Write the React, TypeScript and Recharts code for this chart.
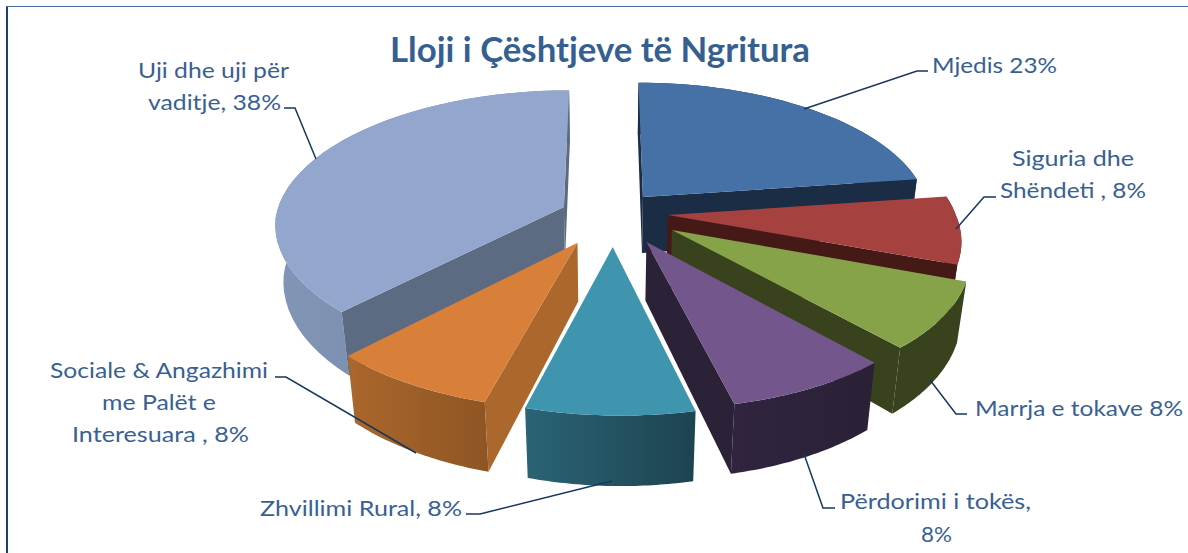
import { Pie, PieChart } from "recharts";

const names = [
  "Uji dhe uji për vaditje",
  "Mjedis",
  "Siguria dhe Shëndeti",
  "Marrja e tokave",
  "Përdorimi i tokës",
  "Zhvillimi Rural",
  "Sociale & Angazhimi me Palët e Interesuara",
];
const values = [38, 23, 8, 8, 8, 8, 8];

const topColors = ["#93a6cd", "#4571a6", "#a5413f", "#87a34a", "#72568c", "#3f95ae", "#d87f3a"];
const cutColors = ["#5c6a82", "#1a2d44", "#451a16", "#38421c", "#2b2238", "#25606f", "#ab672c"];
const rimFrom = ["#8195b6", "#1a2d44", "#451a16", "#38421c", "#30243f", "#2a6475", "#ab672c"];
const rimTo = ["#7285a4", "#1a2d44", "#451a16", "#38421c", "#2a2136", "#1d4350", "#8e5524"];

// how far each slice is pulled out on the ground plane, in radii
const pullX = [-0.144, 0.134, 0.218, 0.226, 0.135, 0.02, -0.098];
const pullY = [-0.06, -0.136, 0, 0.109, 0.194, 0.23, 0.2];

// [text, left, baseline, width]
const labelLines: [string, number, number, number][][] = [
  [
    ["Uji dhe uji për", 138, 78, 151],
    ["vaditje, 38%", 148, 110, 133],
  ],
  [["Mjedis 23%", 932, 73, 125]],
  [
    ["Siguria dhe", 1012, 166, 122],
    ["Shëndeti  , 8%", 1000, 198, 146],
  ],
  [["Marrja e tokave 8%", 975, 416, 208]],
  [
    ["Përdorimi i tokës,", 840, 509, 191],
    ["8%", 921, 542, 31],
  ],
  [["Zhvillimi Rural, 8%", 260, 516, 202]],
  [
    ["Sociale & Angazhimi", 50, 378, 218],
    ["me Palët e", 102, 410, 114],
    ["Interesuara , 8%", 72, 442, 177],
  ],
];

const leaders = [
  "284,108 295,108 316,159",
  "928,71 917,71 804,109",
  "996,197 984,197 956,229",
  "967,414 956,414 930,380",
  "835,508 823,508 804,454",
  "466,514 480,514 612,481",
  "275,377 286,377 416,453",
];

const rows = names.map((name, i) => ({ name, value: values[i] }));

const FONT = "Lato, 'Open Sans', sans-serif";
const CX = 605;
const CY = 215;
const RADIUS = 288;
const SQUASH = 135;
const DEPTH = 58;
const PERSP = 0.14;
const LEAN = 7.5;

// ground plane (unit radius, y toward viewer), z = 0 top, 1 bottom
function project(x: number, y: number, z: number) {
  const s = 1 / (1 - PERSP * y + 0.025 * z);
  const near = Math.max(0, y);
  return [CX + RADIUS * x * s + LEAN * near, CY + (SQUASH * y + DEPTH * z * (1 + 0.1 * near)) * s];
}

const pts = (list: number[][]) => list.map((p) => `${p[0].toFixed(1)},${p[1].toFixed(1)}`).join(" ");

function signedArea(list: number[][]) {
  let a = 0;
  list.forEach((p, i) => {
    const q = list[(i + 1) % list.length];
    a += p[0] * q[1] - q[0] * p[1];
  });
  return a;
}

function Slice(props: any) {
  const { startAngle, endAngle, index } = props;
  const a0 = ((90 - startAngle) * Math.PI) / 180;
  const a1 = ((90 - endAngle) * Math.PI) / 180;
  const ox = pullX[index];
  const oy = pullY[index];
  const steps = 40;
  const top: number[][] = [];
  const bottom: number[][] = [];
  for (let k = 0; k <= steps; k++) {
    const t = a0 + ((a1 - a0) * k) / steps;
    const x = ox + Math.sin(t);
    const y = oy - Math.cos(t);
    top.push(project(x, y, 0));
    bottom.push(project(x, y, 1));
  }
  const apexTop = project(ox, oy, 0);
  const apexBottom = project(ox, oy, 1);
  const first = [apexTop, top[0], bottom[0], apexBottom];
  const last = [apexTop, apexBottom, bottom[steps], top[steps]];
  const rim = [...top, ...[...bottom].reverse()];
  const id = `rim-${index}`;
  return (
    <g>
      <defs>
        <linearGradient id={id} x1="0" y1="0" x2="1" y2="0">
          <stop offset="0" stopColor={rimFrom[index]} />
          <stop offset="1" stopColor={rimTo[index]} />
        </linearGradient>
      </defs>
      <polygon points={pts(rim)} fill={`url(#${id})`} />
      {signedArea(first) < 0 && <polygon points={pts(first)} fill={cutColors[index]} />}
      {signedArea(last) < 0 && <polygon points={pts(last)} fill={cutColors[index]} />}
      <polygon points={pts([apexTop, ...top])} fill={topColors[index]} />
    </g>
  );
}

function SliceLabel(props: any) {
  const { index } = props;
  return (
    <g>
      <polyline points={leaders[index]} fill="none" stroke="#17375e" strokeWidth={1.5} />
      {labelLines[index].map(([text, x, y, w]) => (
        <text
          key={text}
          x={x}
          y={y}
          textLength={w}
          lengthAdjust="spacingAndGlyphs"
          fill="#3a5f92"
          fontFamily={FONT}
          fontSize={22}
        >
          {text}
        </text>
      ))}
    </g>
  );
}

export default function App() {
  return (
    <div style={{ position: "absolute", left: 0, top: 0, width: 1188, height: 553, background: "#fff" }}>
      <div style={{ position: "absolute", left: 6, top: 6, width: 2, height: 547, background: "#1f3f6e" }} />
      <div style={{ position: "absolute", left: 6, top: 6, width: 1182, height: 1, background: "#4a6f9c" }} />
      <PieChart width={1188} height={553} margin={{ top: 0, right: 0, bottom: 0, left: 0 }}>
        <Pie
          data={rows}
          dataKey="value"
          nameKey="name"
          cx={CX}
          cy={CY}
          outerRadius={RADIUS}
          startAngle={-134.6}
          endAngle={-494.6}
          stroke="none"
          shape={Slice}
          inactiveShape={Slice}
          label={SliceLabel}
          labelLine={false}
          isAnimationActive={false}
        />
        <text x={390} y={62} textLength={420} lengthAdjust="spacingAndGlyphs" fill="#365f91" fontFamily={FONT} fontSize={34} fontWeight={700}>
          Lloji i Çështjeve të Ngritura
        </text>
      </PieChart>
    </div>
  );
}
